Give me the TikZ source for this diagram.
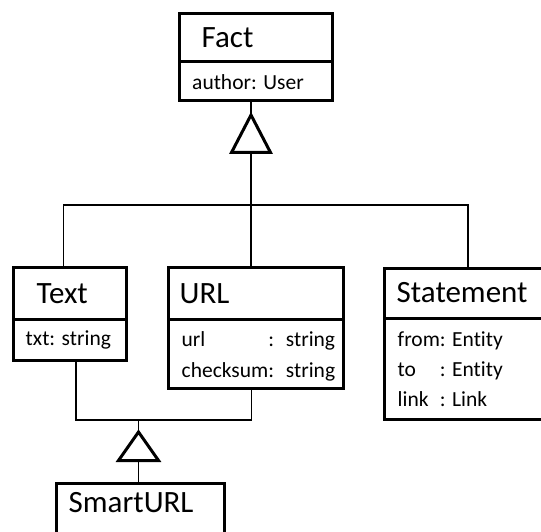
\documentclass[tikz,border=0pt]{standalone}
\usepackage{fontspec}
\setmainfont{Carlito}[Ligatures=NoCommon]
\newlength\colwd
\begin{document}
\begin{tikzpicture}[x=1pt,y=-1pt,
  classpart/.style={draw, line width=3pt, inner sep=0pt, outer sep=0pt,
    anchor=north west, fill=white},
  classname/.style={anchor=base west, inner sep=0pt,
    font=\fontsize{31}{31}\selectfont},
  attr/.style={anchor=base west, inner sep=0pt,
    font=\fontsize{21.5}{21.5}\selectfont},
  connector/.style={line width=1.6pt},
  genarrow/.style={draw, line width=3pt, fill=white, line join=miter}]
\useasboundingbox (0,0) rectangle (541,532);
\clip (0,0) rectangle (541,532);
\fill[white] (0,0) rectangle (541,532);

% junction points of the generalisation trees
\coordinate (g1tip)  at (251,115);
\coordinate (g1base) at (251,152.5);
\coordinate (j1)     at (251,205);
\coordinate (jl)     at (63.5,205);
\coordinate (jr)     at (468,205);
\coordinate (g2tip)  at (138.5,432);
\coordinate (g2base) at (138.5,460.5);
\coordinate (jl2)    at (76,420);
\coordinate (jr2)    at (251.5,420);

% class boxes: name compartment and attribute compartment
\node[classpart, minimum width=152.5pt, minimum height=48.5pt] (fact) at (179.5,13.5) {};
\node[classpart, minimum width=152.5pt, minimum height=38.5pt] (factattr) at (179.5,62) {};
\node[classpart, minimum width=113pt, minimum height=52pt] (text) at (13,267) {};
\node[classpart, minimum width=113pt, minimum height=41pt] (textattr) at (13,319) {};
\node[classpart, minimum width=175.5pt, minimum height=52pt] (url) at (168,267) {};
\node[classpart, minimum width=175.5pt, minimum height=69.5pt] (urlattr) at (168,319) {};
\node[classpart, minimum width=162pt, minimum height=50pt] (statement) at (384.5,268) {};
\node[classpart, minimum width=162pt, minimum height=101.5pt] (stmtattr) at (384.5,318) {};
\node[classpart, minimum width=168pt, minimum height=60pt] (smarturl) at (56,483) {};

% Fact <- Text, URL, Statement
\draw[connector] (factattr.south -| g1tip) -- (g1tip);
\draw[connector] (g1base) -- (j1);
\draw[connector] (text.north -| jl) -- (jl) -- (jr) -- (statement.north -| jr);
\draw[connector] (j1) -- (url.north -| j1);
\draw[genarrow] (g1tip) -- (270.5,152.5) -- (231.5,152.5) -- cycle;

% Text, URL <- SmartURL
\draw[connector] (textattr.south -| jl2) -- (jl2) -- (jr2) -- (urlattr.south -| jr2);
\draw[connector] (jl2 -| g2tip) -- (g2tip);
\draw[connector] (g2base) -- (smarturl.north -| g2base);
\draw[genarrow] (g2tip) -- (158.5,460.5) -- (118.5,460.5) -- cycle;

% names and attributes
\node[classname] (factname) at (201.5,48) {Fact};
\node[attr] (factauthor) at (192,90) {author: User};

\node[classname] (textname) at (36.5,303) {Text};
\node[attr] (texttxt) at (25.5,345) {txt: string};

\node[classname] (urlname) at (179.5,303) {URL};
\node[attr] (urlurl) at (181.5,346)
  {\settowidth{\colwd}{checksum}\makebox[\colwd][l]{url}:\hspace{0.55em}string};
\node[attr] (urlsum) at (181.5,377) {checksum:\hspace{0.55em}string};

\node[classname] (stmtname) at (396.5,302) {Statement};
\node[attr] (stmtfrom) at (397.5,346) {from: Entity};
\node[attr] (stmtto) at (397.5,376)
  {\settowidth{\colwd}{from}\makebox[\colwd][l]{to}: Entity};
\node[attr] (stmtlink) at (397.5,406)
  {\settowidth{\colwd}{from}\makebox[\colwd][l]{link}: Link};

\node[classname] (smartname) at (68.5,512) {SmartURL};
\end{tikzpicture}
\end{document}
